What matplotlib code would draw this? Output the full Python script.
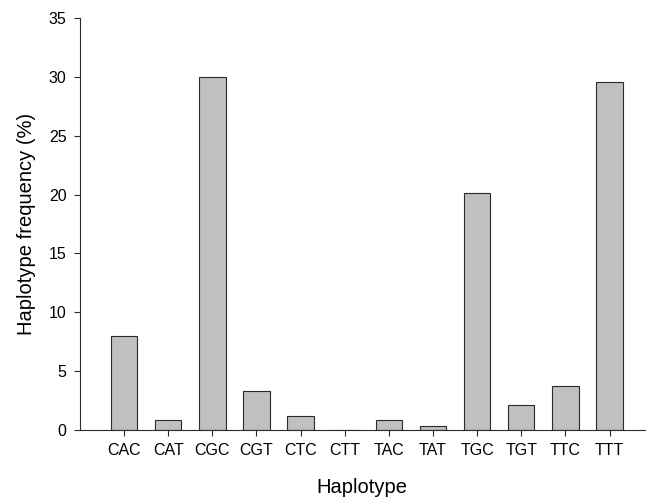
import matplotlib
matplotlib.use("Agg")
import matplotlib.pyplot as plt
import numpy as np

plt.rcParams["font.family"] = ["Liberation Sans", "DejaVu Sans"]

haplotypes = ["CAC", "CAT", "CGC", "CGT", "CTC", "CTT", "TAC", "TAT", "TGC", "TGT", "TTC", "TTT"]
frequency = [8.0, 0.82, 30.0, 3.35, 1.22, 0.0, 0.82, 0.31, 20.1, 2.15, 3.76, 29.55]

fig = plt.figure(figsize=(6.6, 4.99), dpi=100)
ax = fig.add_axes([0.121, 0.138, 0.856, 0.826])

x = np.arange(len(haplotypes))
ax.bar(x, frequency, width=0.6, color="#c0c0c0", edgecolor="#2a2a2a", linewidth=0.8)

ax.set_xlim(-1.0, 11.8)
ax.set_ylim(0, 35)
ax.set_yticks(np.arange(0, 36, 5))
ax.set_xticks(x)
ax.set_xticklabels(haplotypes)
ax.tick_params(labelsize=11.5, direction="out", length=4.5, width=0.8, color="#2a2a2a", pad=5)
ax.spines[["top", "right"]].set_visible(False)
for s in ("left", "bottom"):
    ax.spines[s].set_linewidth(0.8)
    ax.spines[s].set_color("#2a2a2a")

ax.set_xlabel("Haplotype", fontsize=14.5, labelpad=14)
ax.set_ylabel("Haplotype frequency (%)", fontsize=14.5, labelpad=9)

fig.savefig("out.png", dpi=100)
